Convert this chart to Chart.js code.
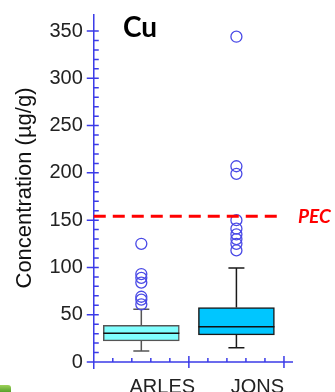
<!DOCTYPE html>
<html>
<head>
<meta charset="utf-8">
<script src="https://cdn.jsdelivr.net/npm/chart.js@4.4.0/dist/chart.umd.min.js"></script>
<style>
  html, body { margin: 0; padding: 0; background: #fff; width: 335px; height: 392px; overflow: hidden; }
  #wrap { position: relative; width: 335px; height: 412px; }
  .leaf { position: absolute; left: 0; top: 385px; width: 11px; height: 8px;
          background: linear-gradient(#9fd25a, #4c9a26); border-top-right-radius: 3px; }
</style>
</head>
<body>
<div id="wrap">
  <canvas id="chart"></canvas>
  <div class="leaf"></div>
</div>
<script>
// Box plot summary for each site
const categories = ['ARLES', 'JONS'];
const lowerWhisker = [11.7, 15.2];
const lowerQuartile = [22.3, 28.6];
const medians = [30.4, 37.4];
const upperQuartile = [38.9, 57.6];
const upperWhisker = [55.9, 99.4];
const arlesOutliers = [61, 66, 69, 84, 89, 93, 125];
const jonsOutliers = [118, 125, 130, 135, 141, 150, 199, 207, 344];
const pecLevel = 154;
const yLabels = [0, 50, 100, 150, 200, 250, 300, 350];

const axisColor = '#3b3be8';
const pointColor = '#4a4ae6';
const boxFill = ['#80ffff', '#00c6ff'];
const boxLine = ['#555555', '#1a1a1a'];

// Whiskers, caps and medians drawn against the scales
const boxPlugin = {
    id: 'boxParts',
    beforeDatasetsDraw(chart) {
        const { ctx, scales: { x, y } } = chart;
        ctx.save();
        ctx.lineWidth = 1.5;
        categories.forEach((c, i) => {
            const cx = x.getPixelForValue(i + 0.5);
            ctx.strokeStyle = boxLine[i];
            ctx.beginPath();
            ctx.moveTo(cx, y.getPixelForValue(upperQuartile[i]));
            ctx.lineTo(cx, y.getPixelForValue(upperWhisker[i]));
            ctx.moveTo(cx, y.getPixelForValue(lowerQuartile[i]));
            ctx.lineTo(cx, y.getPixelForValue(lowerWhisker[i]));
            ctx.moveTo(cx - 8, y.getPixelForValue(upperWhisker[i]));
            ctx.lineTo(cx + 8, y.getPixelForValue(upperWhisker[i]));
            ctx.moveTo(cx - 8, y.getPixelForValue(lowerWhisker[i]));
            ctx.lineTo(cx + 8, y.getPixelForValue(lowerWhisker[i]));
            ctx.stroke();
        });
        ctx.restore();
    },
    afterDatasetsDraw(chart) {
        const { ctx, scales: { y } } = chart;
        const bars = chart.getDatasetMeta(0).data;
        ctx.save();
        ctx.lineWidth = 1.5;
        ctx.strokeStyle = '#111';
        bars.forEach((bar, i) => {
            const my = y.getPixelForValue(medians[i]);
            ctx.beginPath();
            ctx.moveTo(bar.x - bar.width / 2, my);
            ctx.lineTo(bar.x + bar.width / 2, my);
            ctx.stroke();
        });
        ctx.restore();
    }
};

// Axis lines with crossing major ticks and inner minor ticks, PEC line, labels
const axisPlugin = {
    id: 'axisMarks',
    afterDraw(chart) {
        const { ctx, chartArea: a, scales: { x, y } } = chart;
        ctx.save();
        ctx.strokeStyle = axisColor;
        ctx.lineWidth = 1.5;
        ctx.beginPath();
        ctx.moveTo(a.left, a.top);
        ctx.lineTo(a.left, a.bottom + 7);
        ctx.moveTo(a.left - 7, a.bottom);
        ctx.lineTo(a.right, a.bottom);
        y.ticks.forEach(t => {
            if (t.value % 10 !== 0) return;
            const py = y.getPixelForValue(t.value);
            const major = t.value % 50 === 0;
            ctx.moveTo(major ? a.left - 7 : a.left, py);
            ctx.lineTo(a.left + 5, py);
        });
        for (let i = 0; i <= 10; i++) {
            const px = x.getPixelForValue(i / 5);
            const major = i % 5 === 0;
            ctx.moveTo(px, a.bottom - (major ? 6 : 4));
            ctx.lineTo(px, a.bottom + (major ? 6 : 0));
        }
        ctx.stroke();

        // PEC threshold
        const py = y.getPixelForValue(pecLevel);
        ctx.strokeStyle = '#ff0000';
        ctx.lineWidth = 3;
        ctx.setLineDash([12, 7]);
        ctx.beginPath();
        ctx.moveTo(a.left, py);
        ctx.lineTo(a.right - 14, py);
        ctx.stroke();
        ctx.setLineDash([]);

        ctx.fillStyle = '#ff0000';
        ctx.font = 'italic bold 19px Lato, "Open Sans", sans-serif';
        ctx.textBaseline = 'alphabetic';
        ctx.fillText('PEC', 298, py + 7);

        ctx.fillStyle = '#000';
        ctx.font = 'bold 28px Lato, "Open Sans", sans-serif';
        ctx.fillText('Cu', 123, 37);
        ctx.restore();
    }
};

const ctx = document.getElementById('chart');
new Chart(ctx, {
    type: 'bar',
    data: {
        datasets: [
            {
                type: 'bar',
                data: categories.map((c, i) => ({ x: i + 0.5, y: [lowerQuartile[i], upperQuartile[i]] })),
                backgroundColor: boxFill,
                borderColor: boxLine,
                borderWidth: 1.5,
                borderSkipped: false,
                barThickness: 76,
                grouped: false
            },
            {
                type: 'scatter',
                data: arlesOutliers.map(v => ({ x: 0.5, y: v })),
                pointRadius: 5.5,
                pointBorderColor: pointColor,
                pointBackgroundColor: 'rgba(0,0,0,0)',
                pointBorderWidth: 1.3
            },
            {
                type: 'scatter',
                data: jonsOutliers.map(v => ({ x: 1.5, y: v })),
                pointRadius: 5.5,
                pointBorderColor: pointColor,
                pointBackgroundColor: 'rgba(0,0,0,0)',
                pointBorderWidth: 1.3
            }
        ]
    },
    options: {
        responsive: true,
        maintainAspectRatio: false,
        animation: false,
        layout: { padding: { left: 12, top: 14, right: 42, bottom: 0 } },
        plugins: {
            legend: { display: false },
            tooltip: { enabled: false }
        },
        scales: {
            x: {
                type: 'linear',
                min: 0,
                max: 2.095,
                offset: false,
                grid: { display: false, drawTicks: false },
                border: { display: false },
                afterBuildTicks: scale => {
                    scale.ticks = categories.map((c, i) => ({ value: i + 0.5 }));
                },
                ticks: {
                    autoSkip: false,
                    padding: 13,
                    labelOffset: 21,
                    color: '#222',
                    font: { family: '"Liberation Sans", Arial, sans-serif', size: 20 },
                    callback: v => categories[Math.round(v - 0.5)]
                }
            },
            y: {
                min: 0,
                max: 368,
                grid: { display: false, drawTicks: false },
                border: { display: false },
                afterFit: scale => {
                    scale.paddingTop = 0;
                    scale.paddingBottom = 0;
                },
                ticks: {
                    stepSize: 10,
                    autoSkip: false,
                    padding: 11,
                    color: '#222',
                    font: { family: '"Liberation Sans", Arial, sans-serif', size: 20 },
                    callback: v => yLabels.includes(v) ? v : ''
                },
                title: {
                    display: true,
                    text: 'Concentration (µg/g)',
                    color: '#111',
                    padding: { top: 0, bottom: 0 },
                    font: { family: '"Liberation Sans", Arial, sans-serif', size: 22 }
                }
            }
        }
    },
    plugins: [boxPlugin, axisPlugin]
});
</script>
</body>
</html>
